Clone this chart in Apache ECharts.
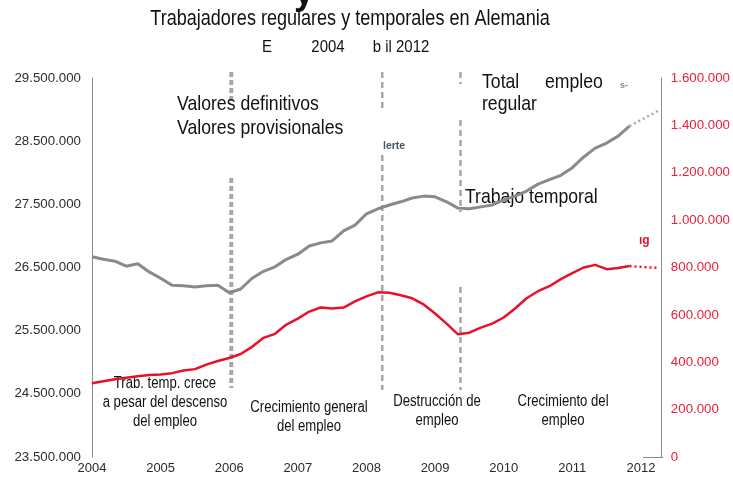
<!DOCTYPE html>
<html><head><meta charset="utf-8">
<script src="https://cdn.jsdelivr.net/npm/echarts@6/dist/echarts.min.js"></script>
<style>html,body{margin:0;padding:0;background:#fff}#c{width:733px;height:477px}</style>
</head><body><div id="c"></div>
<script>
// Month index from January 2004 (0 = Jan 2004)
const months = [0,2,4,6,8,10,12,14,16,18,20,22,24,26,28,30,32,34,36,38,40,42,44,46,48,50,52,54,56,58,60,62,64,66,68,70,72,74,76,78,80,82,84,86,88,90,92,94];
// Total empleo regular (thousands) - left axis
const regularK = [26670,26630,26600,26520,26560,26430,26330,26220,26210,26190,26210,26220,26100,26160,26330,26440,26510,26630,26710,26840,26890,26920,27080,27170,27350,27430,27490,27540,27600,27630,27620,27540,27440,27430,27460,27490,27570,27630,27710,27820,27890,27960,28080,28250,28390,28470,28580,28740];
// Trabajo temporal (thousands) - right axis
const temporalK = [311,320,328,335,341,346,348,354,365,371,390,405,418,435,465,503,520,559,584,614,631,627,631,657,678,695,693,683,670,644,606,563,518,525,546,563,589,627,670,700,721,751,776,800,811,793,798,806];
// Provisional values (dotted)
const provMonths = [94, 99];
const regularProvK = [28740, 28980];
const temporalProvK = [806, 798];
// Vertical phase separators (years)
const phaseLines = [2006.03, 2008.23, 2009.37];

const SANS = "'Liberation Sans',Arial,sans-serif";
function fmt(n){ return String(Math.round(n)).replace(/\B(?=(\d{3})+(?!\d))/g,'.'); }
const toYear = m => 2004 + m/12;
const pts = (ms, vs) => ms.map((m,i)=>[toYear(m), vs[i]*1000]);

const chart = echarts.init(document.getElementById('c'));
chart.setOption({
  animation:false,
  grid:{left:92,right:70,top:78,bottom:20},
  xAxis:{type:'value',min:2004,max:2012.29,interval:1,
    axisLine:{show:false},axisTick:{show:false},splitLine:{show:false},
    axisLabel:{formatter:v=>Number.isInteger(v)?String(v):'',margin:5,color:'#2a2a2a',fontSize:13,fontFamily:SANS}},
  yAxis:[
    {type:'value',min:23500000,max:29500000,interval:1000000,position:'left',
     axisLine:{show:true,lineStyle:{color:'#8c8c8c',width:1}},axisTick:{show:false},splitLine:{show:false},
     axisLabel:{formatter:fmt,margin:11,color:'#2e2e2e',fontSize:13.3,fontFamily:SANS}},
    {type:'value',min:0,max:1600000,interval:200000,position:'right',
     axisLine:{show:true,lineStyle:{color:'#8c8c8c',width:1}},axisTick:{show:false},splitLine:{show:false},
     axisLabel:{formatter:fmt,margin:10,color:'#e8203a',fontSize:13.3,fontFamily:SANS}}
  ],
  series:[
    {type:'line',yAxisIndex:0,data:pts(months,regularK),symbol:'none',lineStyle:{color:'#8a8a8a',width:3}},
    {type:'line',yAxisIndex:0,data:pts(provMonths,regularProvK),symbol:'none',lineStyle:{color:'#a8a8a8',width:2.5,type:[2,3]}},
    {type:'line',yAxisIndex:1,data:pts(months,temporalK),symbol:'none',lineStyle:{color:'#e8102a',width:2.5}},
    {type:'line',yAxisIndex:1,data:pts(provMonths,temporalProvK),symbol:'none',lineStyle:{color:'#e8102a',width:2.5,type:[2,3]}}
  ]
});

const px = y => chart.convertToPixel({xAxisIndex:0}, y);
function vseg(x, y1, y2, w, dash){
  return {type:'line',shape:{x1:x,y1:y1,x2:x,y2:y2},style:{stroke:'#a6a6a6',lineWidth:w,lineDash:dash},silent:true};
}
function txt(text, x, y, size, opts){
  opts = opts||{};
  return {type:'text',x:x,y:y,scaleX:opts.sx||0.84,silent:true,style:{text:text,font:(opts.weight||'normal')+' '+size+'px '+SANS,
    fill:opts.fill||'#111',align:opts.align||'left',verticalAlign:'middle'}};
}
const x1 = px(phaseLines[0]), x2 = px(phaseLines[1]), x3 = px(phaseLines[2]);
const g = [
  vseg(x1,72,103,4,[5,3]), vseg(x1,178,388,4,[5,3]),
  vseg(x2,72,110,2.5,[6,4]), vseg(x2,155,390,2.5,[6,4]),
  vseg(x3,72,84,2.5,[6,4]), vseg(x3,120,212,2.5,[6,4]), vseg(x3,287,390,2.5,[6,4]),
  {type:'line',shape:{x1:643,y1:457.5,x2:663,y2:457.5},style:{stroke:'#8c8c8c',lineWidth:1},silent:true},
  txt('y',304,-6,36,{weight:'bold',align:'center',sx:1}),
  txt('Trabajadores regulares y temporales en Alemania',350,19,22,{align:'center',sx:0.82}),
  txt('E',267,47,17,{align:'center',sx:0.88}),
  txt('2004',328,47,17,{align:'center',sx:0.88}),
  txt('b il 2012',401,47,17,{align:'center',sx:0.88}),
  txt('Valores definitivos',177,104,21),
  txt('Valores provisionales',177,128,21),
  txt('Total',482,82,21),
  txt('empleo',545,82,21),
  txt('regular',482,104,21),
  txt('s-',620,86,9,{fill:'#888',weight:'bold',sx:1}),
  txt('lerte',383,146,10.5,{fill:'#44546a',weight:'bold',sx:1}),
  txt('Trabajo temporal',465,197,21),
  txt('ıg',639,241,12,{fill:'#e8102a',weight:'bold',sx:1}),
  txt('Trab. temp. crece',165,384,16,{align:'center',sx:0.82}),
  txt('a pesar del descenso',165,403,16,{align:'center',sx:0.82}),
  txt('del empleo',165,422,16,{align:'center',sx:0.82}),
  txt('Crecimiento general',309,408,16,{align:'center',sx:0.82}),
  txt('del empleo',309,427,16,{align:'center',sx:0.82}),
  txt('Destrucción de',437,402,16,{align:'center',sx:0.82}),
  txt('empleo',437,421,16,{align:'center',sx:0.82}),
  txt('Crecimiento del',563,402,16,{align:'center',sx:0.82}),
  txt('empleo',563,421,16,{align:'center',sx:0.82})
];
chart.setOption({graphic:g});
</script></body></html>
